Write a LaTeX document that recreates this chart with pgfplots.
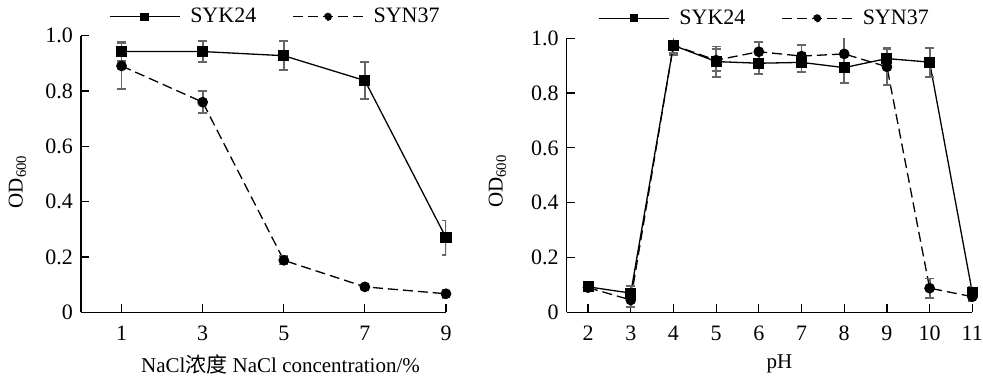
\documentclass[border=0pt]{standalone}
\usepackage{fontspec}
\setmainfont{Liberation Serif}
\newfontfamily\cjk{Noto Sans CJK SC}
\usepackage{pgfplots}
\pgfplotsset{compat=1.18}
\usepackage{pgfplotstable}

\pgfplotstableread{
x y e
1 0.943 0.035
3 0.943 0.037
5 0.928 0.053
7 0.838 0.068
9 0.270 0.062
}\naclA
\pgfplotstableread{
x y e
1 0.891 0.083
3 0.760 0.040
5 0.188 0.015
7 0.092 0.008
9 0.067 0.015
}\naclB
\pgfplotstableread{
x y e
2 0.093 0.012
3 0.070 0.025
4 0.974 0.035
5 0.915 0.055
6 0.909 0.040
7 0.912 0.035
8 0.893 0.055
9 0.926 0.040
10 0.913 0.053
11 0.072 0.020
}\phA
\pgfplotstableread{
x y e
2 0.090 0.010
3 0.045 0.025
4 0.975 0.030
5 0.920 0.040
6 0.951 0.035
7 0.935 0.040
8 0.943 0.060
9 0.896 0.065
10 0.088 0.035
11 0.057 0.015
}\phB

\pgfplotsset{
  myaxis/.style={
    scale only axis,
    axis x line=bottom, axis y line=left,
    axis line style={-, line width=0.65pt},
    tick align=inside,
    major tick length=4pt,
    tick style={line width=0.6pt, black},
    ymin=0, ymax=1,
    ytick={0,0.2,0.4,0.6,0.8,1.0},
    yticklabels={0,0.2,0.4,0.6,0.8,1.0},
    /pgf/number format/assume math mode=true,
    tick label style={font=\fontsize{11}{13}\selectfont},
    xticklabel style={yshift=-3.5pt},
    yticklabel style={xshift=-0.5pt},
    label style={font=\fontsize{10.5}{12}\selectfont},
    ylabel={OD\textsubscript{600}},
    ylabel style={at={(axis description cs:0,0.5)}, anchor=center},
    legend columns=2,
    legend style={draw=none, fill=none, font=\fontsize{11}{13}\selectfont, anchor=center,
      /tikz/every odd column/.append style={column sep=3pt},
      /tikz/every even column/.append style={column sep=16pt}},
    legend cell align=left,
    legend image code/.code={
      \draw[mark repeat=2, mark phase=2, #1, mark options={scale=0.72}]
        plot coordinates {(0pt,0pt) (17.5pt,0pt) (35pt,0pt)};},
    errstyle/.style={
      error bars/.cd, y dir=both, y explicit,
      error bar style={black!60, line width=0.9pt, solid},
      error mark options={rotate=90, mark size=2.2pt, black!60, line width=0.9pt, solid}},
  },
  serA/.style={black, solid, line width=0.65pt, mark=square*, mark size=2.45pt, mark options={solid, fill=black}},
  serB/.style={black, dash pattern=on 5pt off 2.5pt, line width=0.65pt, mark=*, mark size=2.35pt, mark options={solid, fill=black}},
}

\begin{document}
\begin{tikzpicture}
\useasboundingbox (0,0) rectangle (491.5pt,189.5pt);
\begin{axis}[myaxis,
  at={(40.5pt,33.35pt)}, anchor=south west,
  width=182.5pt, height=138.25pt,
  xmin=0, xmax=9, xtick={1,3,5,7,9},
  xlabel={NaCl{\cjk 浓度} NaCl concentration/\%},
  xlabel style={xshift=8.5pt},
  ylabel style={yshift=31.75pt, xshift=-3.75pt},
  legend style={at={(0.535,1)}, yshift=9.5pt},
]
\addplot[serA, errstyle] table[x=x, y=y, y error=e] {\naclA};
\addlegendentry{SYK24}
\addplot[serB, errstyle] table[x=x, y=y, y error=e] {\naclB};
\addlegendentry{SYN37}
\end{axis}

\begin{axis}[myaxis,
  at={(283.35pt,33.35pt)}, anchor=south west,
  width=202.8pt, height=137pt,
  xmin=1.5, xmax=11, xtick={2,3,...,11},
  xlabel={pH},
  xlabel style={xshift=5pt},
  ylabel style={yshift=34.6pt, xshift=-3pt},
  legend style={at={(0.49,1)}, yshift=10pt},
]
\addplot[serA, errstyle] table[x=x, y=y, y error=e] {\phA};
\addlegendentry{SYK24}
\addplot[serB, errstyle] table[x=x, y=y, y error=e] {\phB};
\addlegendentry{SYN37}
\end{axis}
\end{tikzpicture}
\end{document}
